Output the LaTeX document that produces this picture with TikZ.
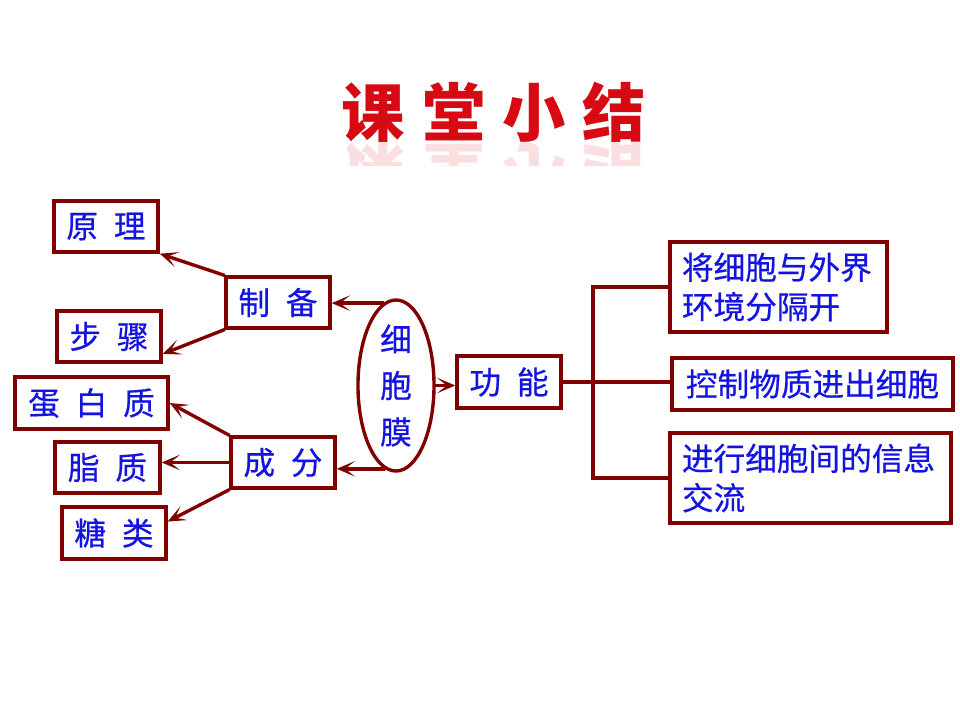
\documentclass[tikz,border=0pt]{standalone}
\usepackage{fontspec}
\newfontfamily\cjk[FakeBold=0.6]{Noto Sans CJK SC}
\newfontfamily\cjkt{Noto Sans CJK SC}
\usetikzlibrary{shapes.geometric,arrows.meta}
\definecolor{lineRed}{RGB}{128,0,0}
\definecolor{txtBlue}{RGB}{20,20,225}
\definecolor{titleRed}{RGB}{215,10,20}

\begin{document}
\begin{tikzpicture}[x=0.025cm,y=-0.025cm,line cap=round,
  every node/.style={inner sep=1pt},
  box/.style={draw=lineRed,line width=2.4pt,text=txtBlue,font=\cjk\fontsize{22.5}{28}\selectfont,
    minimum width=2.6cm,minimum height=1.275cm},
  oval/.style={ellipse,draw=lineRed,line width=2.4pt,minimum width=1.9cm,minimum height=4.275cm,inner sep=0pt},
  arr/.style={-{Stealth[length=13pt,width=11pt,inset=7pt]},draw=lineRed,line width=2.4pt},
  lnk/.style={draw=lineRed,line width=2.4pt}]
  \def\gap{\hspace{0.5em}}
  \def\tgap{\hspace{0.27em}}
  \useasboundingbox (0,0) rectangle (960,720);
  % title and its reflection
  \node[text=titleRed,font=\cjkt\bfseries\fontsize{45}{45}\selectfont] (ttl) at (494,112) {课\tgap 堂\tgap 小\tgap 结};
  \begin{scope}
    \clip (300,143) rectangle (700,166);
    \begin{scope}[shift={(494,173)},yscale=-1,transform shape]
      \node[text=titleRed,opacity=0.13,font=\cjkt\bfseries\fontsize{45}{45}\selectfont] (ttlr) at (0,0) {课\tgap 堂\tgap 小\tgap 结};
    \end{scope}
  \end{scope}
  % left side
  \node[box] (yl) at (106,226.5) {原\gap 理};
  \node[box] (bz) at (109,336.5) {步\gap 骤};
  \node[box,minimum width=3.825cm,minimum height=1.3cm] (dbz) at (91.5,403) {蛋\gap 白\gap 质};
  \node[box,minimum width=2.625cm] (zz) at (107.5,467.5) {脂\gap 质};
  \node[box,minimum height=1.3cm] (tl) at (114,533) {糖\gap 类};
  \node[box] (zb) at (278,302.5) {制\gap 备};
  \node[box] (cf) at (283,462.5) {成\gap 分};
  \node[oval] (xbm) at (396,385.5) {};
  \node[text=txtBlue,align=center,font=\cjk\fontsize{22.5}{33}\selectfont] (xbmt) at (xbm) {细\\胞\\膜};
  % right side
  \node[box,minimum height=1.3cm] (gn) at (509,382) {功\gap 能};
  \node[box,minimum width=5.425cm,minimum height=2.25cm,inner xsep=0.3cm,text width=4.825cm,align=left] (f1) at (778.5,287) {将细胞与外界\\环境分隔开};
  \node[box,minimum width=7.025cm,minimum height=1.3cm] (f2) at (812.5,384) {控制物质进出细胞};
  \node[box,minimum width=7.025cm,minimum height=2.25cm,inner xsep=0.3cm,text width=6.425cm,align=left] (f3) at (810.5,478) {进行细胞间的信息\\交流};
  % connectors
  \draw[arr] (xbm.99) -- (xbm.99 -| zb.east);
  \draw[arr] (xbm.262) -- (xbm.262 -| cf.east);
  \draw[arr] (xbm.east) -- (xbm.east -| gn.west);
  \draw[arr] (zb.north west) -- (yl.south east);
  \draw[arr] (zb.south west) -- (bz.-18);
  \draw[arr] (cf.north west) -- (dbz.east);
  \draw[arr] (cf.west) -- (cf.west -| zz.east);
  \draw[arr] (cf.south west) -- (tl.12);
  \coordinate (jn) at (593,382);
  \draw[lnk] (gn.east) -- (gn.east -| f2.west);
  \draw[lnk] (f1.west) -| (jn) |- (f3.west);
\end{tikzpicture}
\end{document}
